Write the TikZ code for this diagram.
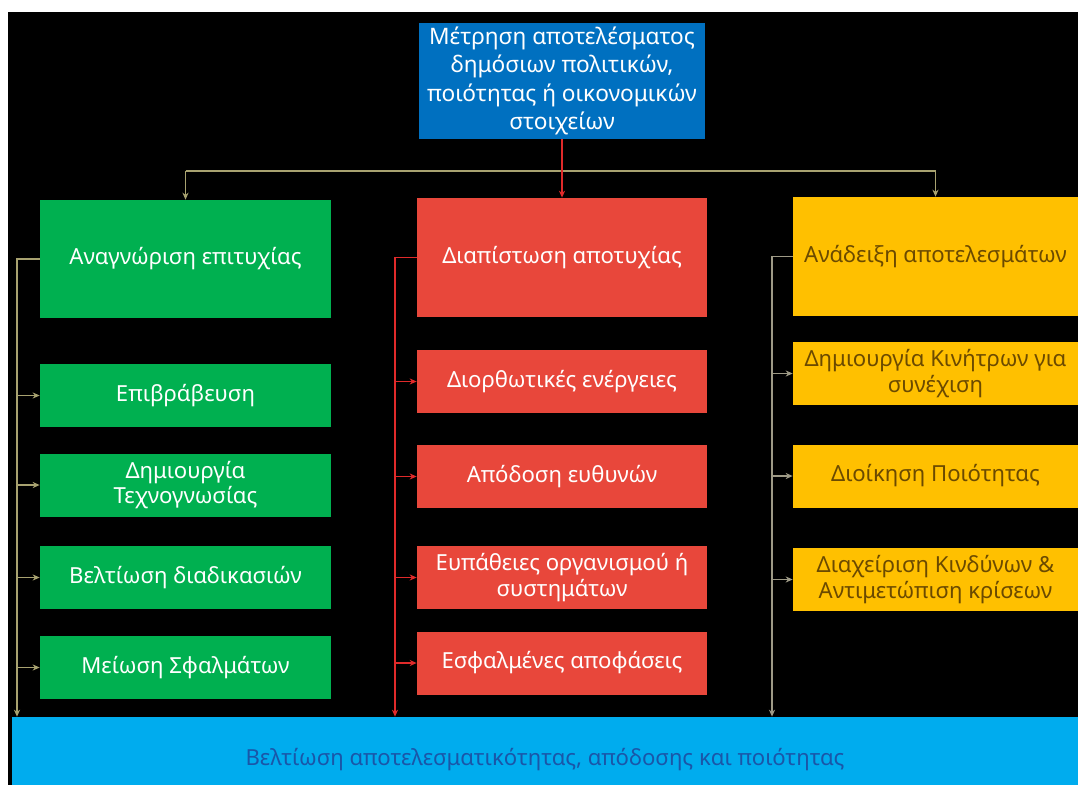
\documentclass[tikz,border=0pt]{standalone}
\usepackage{fontspec}
\setmainfont{Noto Sans}
\usetikzlibrary{arrows.meta}

\definecolor{topblue}{HTML}{0070C0}
\definecolor{grn}{HTML}{00B050}
\definecolor{rd}{HTML}{E8473B}
\definecolor{ylw}{HTML}{FFC000}
\definecolor{ylwtext}{HTML}{6B4A00}
\definecolor{botblue}{HTML}{00ACEE}
\definecolor{bottext}{HTML}{1A56A8}
\definecolor{olive}{HTML}{A8A270}
\definecolor{redline}{HTML}{E02A2A}
\definecolor{greyline}{HTML}{9E9A86}

\begin{document}
\begin{tikzpicture}[x=0.02cm,y=-0.02cm,
  box/.style 2 args={rectangle,inner sep=2pt,align=center,
    minimum width=#1*0.02cm,minimum height=#2*0.02cm,
    font=\fontsize{12.6}{14.5}\selectfont},
  gbox/.style={box={291}{63},fill=grn,text=white},
  rbox/.style={box={290}{63},fill=rd,text=white},
  ybox/.style={box={285}{63},fill=ylw,text=ylwtext},
  tip/.style={-{Stealth[length=4pt,width=3.5pt]}},
  gline/.style={olive,line width=0.7pt},
  rline/.style={redline,line width=0.7pt},
  yline/.style={greyline,line width=0.7pt}]

\useasboundingbox (0,0) rectangle (1078,785);
\fill[white] (0,0) rectangle (1078,785);
\fill[black] (8,12) rectangle (1078,785);

\node[box={286}{116},fill=topblue,text=white,
  font=\fontsize{12.9}{16.2}\selectfont] (top) at (562,81)
  {Μέτρηση αποτελέσματος\\δημόσιων πολιτικών,\\ποιότητας ή οικονομικών\\στοιχείων};

\node[box={1066}{68},fill=botblue,text=bottext,
  text height=17pt,text depth=1pt] (bot) at (545,751)
  {Βελτίωση αποτελεσματικότητας, απόδοσης και ποιότητας};

\node[gbox,minimum height=118*0.02cm] (g0) at (185.5,259) {Αναγνώριση επιτυχίας};
\node[gbox] (g1) at (185.5,395.5) {Επιβράβευση};
\node[gbox] (g2) at (185.5,485) {Δημιουργία\\Τεχνογνωσίας};
\node[gbox] (g3) at (185.5,577.5) {Βελτίωση διαδικασιών};
\node[gbox] (g4) at (185.5,667.5) {Μείωση Σφαλμάτων};

\node[rbox,minimum height=119*0.02cm] (r0) at (562,257.5) {Διαπίστωση αποτυχίας};
\node[rbox] (r1) at (562,381.5) {Διορθωτικές ενέργειες};
\node[rbox] (r2) at (562,476.5) {Απόδοση ευθυνών};
\node[rbox] (r3) at (562,577.5) {Ευπάθειες οργανισμού ή\\συστημάτων};
\node[rbox] (r4) at (562,663) {Εσφαλμένες αποφάσεις};

\node[ybox,minimum height=119*0.02cm] (y0) at (935.5,256.5) {Ανάδειξη αποτελεσμάτων};
\node[ybox] (y1) at (935.5,373.5) {Δημιουργία Κινήτρων για\\συνέχιση};
\node[ybox] (y2) at (935.5,476) {Διοίκηση Ποιότητας};
\node[ybox] (y3) at (935.5,579.5) {Διαχείριση Κινδύνων \&\\Αντιμετώπιση κρίσεων};

\coordinate (hy) at (0,171);
\coordinate (gx) at (17,0);
\coordinate (rx) at (395,0);
\coordinate (yx) at (772,0);

\draw[gline] (g0.north |- hy) -- (y0.north |- hy);
\draw[gline,tip] (g0.north |- hy) -- (g0.north);
\draw[gline,tip] (y0.north |- hy) -- (y0.north);
\draw[rline,tip] (top.south) -- (r0.north);

\draw[gline,tip] (g0.west) -- (g0.west -| gx) -- (gx |- bot.north);
\foreach \n in {g1,g2,g3,g4}
  \draw[gline,tip] (\n.west -| gx) -- (\n.west);

\draw[rline,tip] (r0.west) -- (r0.west -| rx) -- (rx |- bot.north);
\foreach \n in {r1,r2,r3,r4}
  \draw[rline,tip] (\n.west -| rx) -- (\n.west);

\draw[yline,tip] (y0.west) -- (y0.west -| yx) -- (yx |- bot.north);
\foreach \n in {y1,y2,y3}
  \draw[yline,tip] (\n.west -| yx) -- (\n.west);

\end{tikzpicture}
\end{document}
